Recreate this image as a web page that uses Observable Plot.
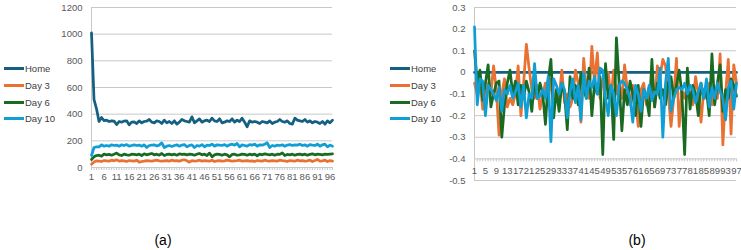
<!DOCTYPE html>
<html><head><meta charset="utf-8">
<script src="https://cdn.jsdelivr.net/npm/d3@7"></script>
<script src="https://cdn.jsdelivr.net/npm/@observablehq/plot@0.6"></script>
<style>
body{margin:0;background:#fff;font-family:"Liberation Sans",Arial,sans-serif}
#chart{position:relative;width:741px;height:250px;overflow:hidden}
.panel{position:absolute;top:0}
.item{position:absolute;display:flex;align-items:center;white-space:nowrap;height:12px;font-size:9.5px;color:#404040}
.swatch{width:20px;height:3px;margin-right:1px}
.caption{position:absolute;top:231px;font-size:14px;line-height:18px;color:#000;transform:translateX(-50%)}
</style></head><body><div id="chart"></div>
<script>
// Series names and colours
const series = ["Home", "Day 3", "Day 6", "Day 10"];
const colors = ["#156082", "#E97132", "#196B24", "#0F9ED5"];

// Sample index 1..97
const days = d3.range(1, 98);

// Panel (a): raw values
const homeA = [
  1010, 510, 440, 345, 375, 352, 355, 345, 350, 348,
  322, 345, 340, 348, 350, 320, 340, 342, 330, 350,
  335, 345, 348, 360, 340, 335, 350, 345, 330, 355,
  335, 345, 330, 350, 325, 340, 360, 350, 345, 340,
  380, 335, 350, 365, 340, 350, 355, 345, 370, 350,
  345, 365, 335, 340, 350, 345, 365, 340, 355, 345,
  370, 340, 305, 350, 340, 345, 340, 330, 345, 340,
  335, 350, 330, 340, 345, 360, 345, 340, 350, 330,
  325, 370, 355, 350, 345, 360, 340, 350, 335, 345,
  340, 330, 345, 325, 350, 335, 355
];
const day3A = [
  25, 42, 50, 48, 45, 52, 50, 48, 55, 50,
  58, 48, 52, 50, 45, 52, 50, 48, 55, 40,
  45, 48, 52, 50, 48, 52, 55, 50, 48, 50,
  52, 48, 55, 50, 52, 48, 55, 58, 50, 40,
  52, 48, 50, 55, 48, 52, 50, 48, 55, 45,
  50, 52, 48, 50, 55, 52, 48, 50, 52, 55,
  48, 50, 52, 48, 50, 45, 52, 50, 48, 55,
  50, 48, 52, 50, 48, 55, 52, 50, 45, 52,
  50, 48, 55, 50, 52, 48, 50, 55, 45, 52,
  60, 48, 50, 55, 45, 52, 48
];
const day6A = [
  60, 80, 90, 92, 85, 100, 95, 98, 92, 100,
  108, 95, 90, 100, 95, 92, 100, 98, 95, 100,
  90, 102, 95, 100, 105, 95, 100, 92, 105, 90,
  98, 100, 95, 100, 92, 102, 98, 100, 95, 100,
  98, 92, 100, 105, 95, 100, 90, 108, 80, 95,
  100, 98, 92, 100, 95, 80, 98, 100, 92, 95,
  100, 98, 92, 100, 95, 100, 88, 100, 95, 102,
  98, 95, 100, 92, 100, 98, 110, 90, 98, 95,
  100, 92, 98, 100, 95, 100, 92, 98, 102, 95,
  100, 98, 95, 100, 98, 100, 102
];
const day10A = [
  90, 150, 155, 155, 170, 160, 165, 160, 170, 165,
  168, 160, 170, 165, 172, 160, 165, 170, 165, 168,
  160, 170, 150, 165, 168, 170, 162, 168, 185, 150,
  160, 165, 158, 165, 170, 160, 168, 172, 155, 165,
  170, 150, 165, 160, 172, 155, 168, 165, 175, 160,
  170, 168, 165, 172, 160, 170, 175, 168, 180, 155,
  170, 165, 160, 172, 168, 175, 160, 170, 168, 175,
  185, 150, 165, 160, 168, 165, 170, 160, 168, 172,
  165, 170, 168, 175, 165, 170, 160, 172, 168, 165,
  175, 160, 170, 175, 155, 168, 160
];

// Panel (b): change relative to Home
const homeB = [
  0, 0, 0, 0, 0, 0, 0, 0, 0, 0,
  0, 0, 0, 0, 0, 0, 0, 0, 0, 0,
  0, 0, 0, 0, 0, 0, 0, 0, 0, 0,
  0, 0, 0, 0, 0, 0, 0, 0, 0, 0,
  0, 0, 0, 0, 0, 0, 0, 0, 0, 0,
  0, 0, 0, 0, 0, 0, 0, 0, 0, 0,
  0, 0, 0, 0, 0, 0, 0, 0, 0, 0,
  0, 0, 0, 0, 0, 0, 0, 0, 0, 0,
  0, 0, 0, 0, 0, 0, 0, 0, 0, 0,
  0, 0, 0, 0, 0, 0, 0
];
const day3B = [
  -0.05, -0.1, -0.03, -0.17, -0.12, -0.05, -0.1, 0.03, -0.08, -0.29,
  -0.1, -0.03, -0.16, -0.12, -0.15, -0.1, 0.03, -0.2, -0.05, 0.13,
  0.02, -0.08, -0.12, -0.06, -0.17, -0.1, -0.05, -0.12, -0.03, -0.15,
  -0.08, -0.12, 0.01, -0.14, -0.1, -0.16, -0.12, 0.01, -0.05, -0.23,
  0.065, -0.08, -0.12, 0.12, -0.05, 0.09, -0.12, -0.03, -0.08, 0.0,
  -0.12, 0.01, -0.1, -0.05, -0.12, 0.035, -0.08, -0.15, -0.06, -0.12,
  -0.25, -0.08, -0.05, -0.15, -0.1, -0.05, -0.16, 0.03, -0.02, 0.06,
  0.03, -0.1, -0.25, -0.12, 0.065, -0.25, -0.08, -0.12, -0.05, -0.1,
  -0.15, -0.02, -0.1, -0.23, -0.08, -0.12, -0.05, -0.15, -0.08, -0.12,
  0.085, -0.335, -0.1, 0.06, -0.285, 0.035, -0.05
];
const day6B = [
  0.1, -0.05, 0.01, -0.13, -0.05, 0.035, -0.16, -0.1, -0.05, -0.04,
  -0.3, -0.15, -0.05, 0.01, -0.1, -0.04, -0.15, -0.06, -0.12, -0.04,
  -0.09, -0.18, -0.03, -0.12, -0.05, -0.1, -0.24, -0.04, 0.06, -0.21,
  -0.08, -0.18, -0.05, -0.1, -0.265, -0.02, -0.12, -0.06, -0.15, 0.0,
  -0.08, -0.12, 0.02, -0.2, -0.05, -0.1, -0.02, -0.38, 0.04, -0.12,
  -0.06, -0.31, 0.16, -0.05, -0.27, -0.08, -0.15, -0.04, -0.1, -0.2,
  -0.06, -0.25, -0.08, -0.12, -0.2, 0.06, -0.16, -0.05, -0.12, -0.08,
  -0.15, -0.05, -0.02, -0.12, -0.06, 0.01, -0.1, -0.38, 0.02, -0.17,
  -0.06, -0.1, -0.2, -0.05, -0.12, -0.08, -0.2, 0.085, -0.15, -0.05,
  0.035, -0.18, -0.08, -0.12, -0.03, -0.06, -0.11
];
const day10B = [
  0.21, -0.15, -0.03, -0.04, -0.2, -0.06, -0.08, -0.1, -0.13, -0.07,
  -0.18, -0.08, -0.1, -0.06, -0.12, -0.09, -0.05, -0.16, -0.06, -0.21,
  -0.1, -0.12, 0.04, -0.12, -0.11, -0.08, -0.12, -0.02, -0.32, -0.03,
  -0.06, -0.1, -0.05, -0.08, -0.21, -0.09, -0.03, -0.14, -0.06, -0.22,
  0.0, -0.12, -0.04, -0.07, -0.02, -0.1, 0.02, 0.01, -0.12, -0.2,
  -0.06, -0.1, -0.2, -0.06, -0.04, -0.05, -0.08, -0.12, -0.23, -0.06,
  -0.1, -0.18, -0.08, -0.12, -0.06, -0.13, -0.09, -0.1, 0.02, -0.3,
  -0.05, 0.065, -0.18, -0.12, -0.08, -0.07, -0.08, -0.05, -0.1, -0.06,
  -0.08, -0.14, -0.09, -0.05, -0.12, -0.03, -0.16, -0.07, -0.12, -0.05,
  -0.09, -0.12, -0.22, -0.07, -0.04, -0.17, -0.05
];

// Axis ticks
const yTicksA = [0, 200, 400, 600, 800, 1000, 1200];
const xLabelsA = [1, 6, 11, 16, 21, 26, 31, 36, 41, 46, 51, 56, 61, 66, 71, 76, 81, 86, 91, 96];
const yTicksB = [0.3, 0.2, 0.1, 0, -0.1, -0.2, -0.3, -0.4, -0.5];
const xLabelsB = [1, 5, 9, 13, 17, 21, 25, 29, 33, 37, 41, 45, 49, 53, 57, 61, 65, 69, 73, 77, 81, 85, 89, 93, 97];

const toRows = (arrays) => arrays.flatMap((arr, k) =>
  arr.map((v, i) => ({day: days[i], value: v, series: series[k]})));
const rowsA = toRows([homeA, day3A, day6A, day10A]);
const rowsB = toRows([homeB, day3B, day6B, day10B]);

const grid = "#c8c8c8";
const font = {fontFamily: '"Liberation Sans", Arial, sans-serif', fontSize: "9.5px", background: "transparent", overflow: "visible"};

const plotA = Plot.plot({
  width: 345, height: 180,
  marginLeft: 91, marginRight: 13, marginTop: 7, marginBottom: 13,
  style: font,
  x: {type: "linear", domain: [1, 97], label: null},
  y: {domain: [0, 1200], label: null},
  color: {domain: series, range: colors},
  marks: [
    Plot.gridY(yTicksA, {stroke: grid, strokeOpacity: 1}),
    Plot.ruleX([1], {stroke: grid}),
    Plot.axisY(yTicksA, {tickSize: 0, tickPadding: 9, fill: "#595959", tickFormat: d => String(d)}),
    Plot.axisX(days, {tickSize: 3, tickPadding: 3, stroke: grid, fill: "#595959",
      tickFormat: d => xLabelsA.includes(d) ? String(d) : ""}),
    Plot.line(rowsA, {x: "day", y: "value", stroke: "series", z: "series", strokeWidth: 2.75, strokeLinejoin: "round"})
  ]
});

const plotB = Plot.plot({
  width: 371, height: 185,
  marginLeft: 104, marginRight: 5, marginTop: 7, marginBottom: 5,
  style: font,
  x: {type: "linear", domain: [1, 97], label: null, axis: null},
  y: {domain: [-0.5, 0.3], label: null},
  color: {domain: series, range: colors},
  marks: [
    Plot.gridY(yTicksB, {stroke: grid, strokeOpacity: 1}),
    Plot.ruleX([1], {stroke: grid}),
    Plot.axisY(yTicksB, {tickSize: 0, tickPadding: 9, fill: "#595959", tickFormat: d => String(+d.toFixed(1))}),
    // category axis crossing at -0.4
    Plot.ruleX(days, {x: d => d, y1: -0.4, y2: -0.414, stroke: grid}),
    Plot.text(xLabelsB, {x: d => d, y: -0.4, dy: 12, text: d => String(d), fill: "#595959"}),
    Plot.line(rowsB, {x: "day", y: "value", stroke: "series", z: "series", strokeWidth: 2.75, strokeLinejoin: "round"})
  ]
});

const chart = document.getElementById("chart");
plotA.classList.add("panel"); plotA.style.left = "0px";
plotB.classList.add("panel"); plotB.style.left = "370px";
chart.append(plotA, plotB);

// Legends
const legendYs = [68, 85, 102, 118];
function legend(x) {
  series.forEach((s, k) => {
    const it = document.createElement("div");
    it.className = "item";
    it.style.left = x + "px";
    it.style.top = (legendYs[k] - 6) + "px";
    const sw = document.createElement("span");
    sw.className = "swatch";
    sw.style.background = colors[k];
    const t = document.createElement("span");
    t.textContent = s;
    it.append(sw, t);
    chart.append(it);
  });
}
legend(4);
legend(390);

// Panel captions
[["(a)", 163], ["(b)", 637]].forEach(([txt, x]) => {
  const c = document.createElement("div");
  c.className = "caption";
  c.style.left = x + "px";
  c.textContent = txt;
  chart.append(c);
});
</script>
</body></html>
